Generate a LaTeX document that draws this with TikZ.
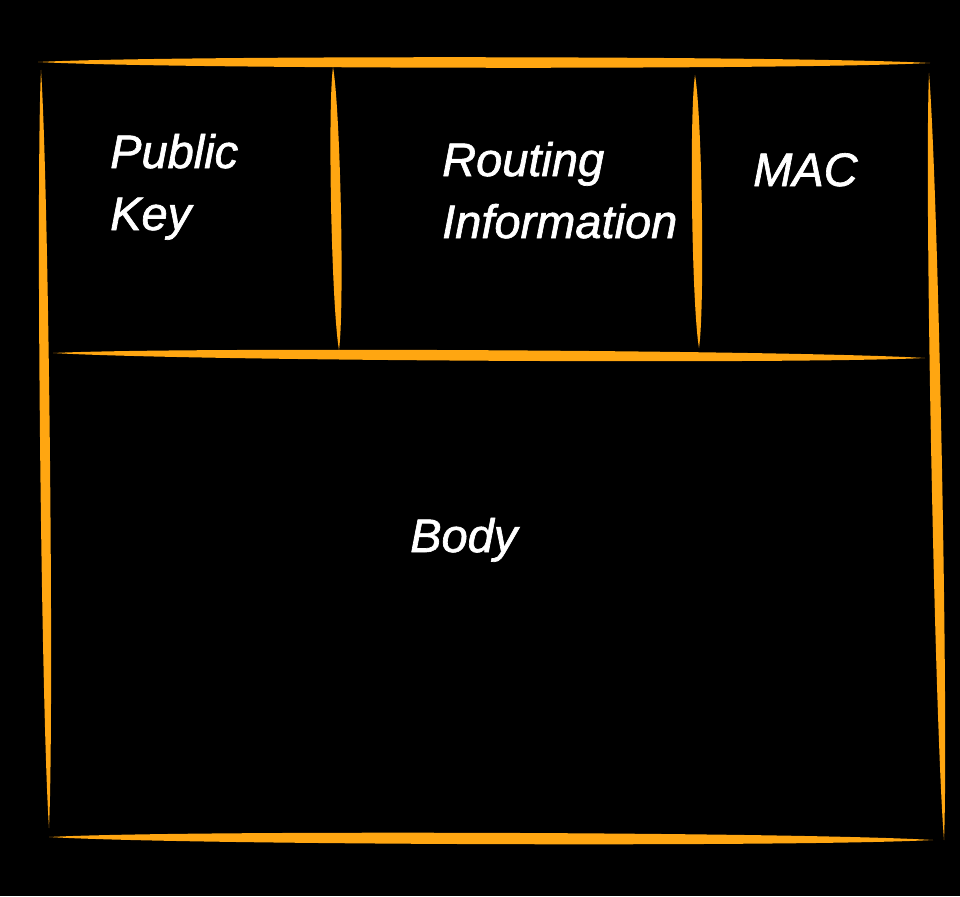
\documentclass[tikz,border=0pt]{standalone}
\usepackage{fontspec}
\setmainfont{Liberation Sans}[ItalicFeatures={FakeBold=1.4}]
\usetikzlibrary{calc}
\definecolor{stroke}{RGB}{255,166,17}
\tikzset{
  label text/.style={text=white, font=\itshape\fontsize{47}{62}\selectfont, anchor=base west, align=left, inner sep=0pt},
  taperfill/.style={fill=stroke, draw=none}
}
\newcommand\taperline[3]{%
  \fill[taperfill] (#1)
    .. controls ($(#1)!0.15!(#2)!#3!90:(#2)$) and ($(#1)!0.85!(#2)!#3!90:(#2)$) .. (#2)
    .. controls ($(#1)!0.85!(#2)!#3!-90:(#2)$) and ($(#1)!0.15!(#2)!#3!-90:(#2)$) .. (#1) -- cycle;}
\begin{document}
\begin{tikzpicture}[x=1pt,y=-1pt]
  \fill[black] (0,0) rectangle (960,896);
  \useasboundingbox (0,0) rectangle (960,896);
  % corners and ends
  \coordinate (topL) at (38,62);
  \coordinate (topR) at (930,63);
  \coordinate (leftT) at (41,70);
  \coordinate (leftB) at (49,828);
  \coordinate (rightT) at (929,73);
  \coordinate (rightB) at (944,840);
  \coordinate (d1T) at (333,67);
  \coordinate (d1B) at (339,350);
  \coordinate (d2T) at (695,75);
  \coordinate (d2B) at (699,348);
  \coordinate (midL) at (53,353);
  \coordinate (midR) at (925,358);
  \coordinate (botL) at (49,837);
  \coordinate (botR) at (933,840);
  \taperline{topL}{topR}{7pt}
  \taperline{leftT}{leftB}{6.5pt}
  \taperline{rightT}{rightB}{7pt}
  \taperline{d1T}{d1B}{6.5pt}
  \taperline{d2T}{d2B}{6.5pt}
  \taperline{midL}{midR}{7pt}
  \taperline{botL}{botR}{7.5pt}
  % texts
  \node[label text] (pk) at (110,230) {Public\\Key};
  \node[label text] (ri) at (442,238) {Routing\\Information};
  \node[label text] (mac) at (753,186) {MAC};
  \node[label text] (body) at (410,552) {Body};
\end{tikzpicture}
\end{document}
